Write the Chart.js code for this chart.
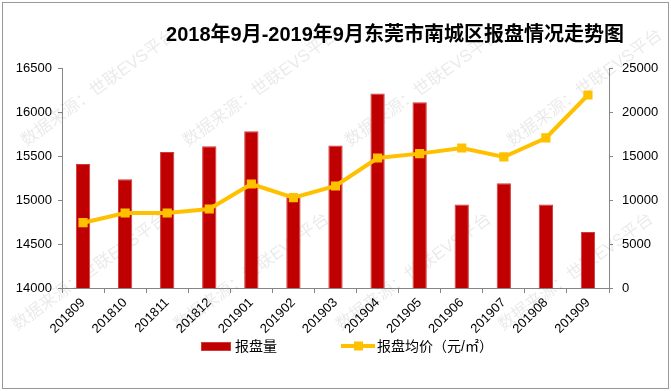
<!DOCTYPE html>
<html>
<head>
<meta charset="utf-8">
<script src="https://cdn.jsdelivr.net/npm/chart.js@4.4.0/dist/chart.umd.min.js"></script>
<style>
  html, body { margin: 0; padding: 0; background: #fff; }
</style>
</head>
<body>
<canvas id="chart" width="671" height="391"></canvas>
<script>
// data
const months = ['201809', '201810', '201811', '201812', '201901', '201902', '201903',
                '201904', '201905', '201906', '201907', '201908', '201909'];
const listingCount = [15410, 15235, 15545, 15610, 15780, 15035, 15620,
                      16210, 16110, 14950, 15190, 14950, 14635];
const avgPrice = [7420, 8520, 8520, 8980, 11820, 10270, 11590,
                  14770, 15270, 15910, 14890, 17050, 21930];
const leftRange = [14000, 16500, 500];
const rightRange = [0, 25000, 5000];

const titleText = '2018年9月-2019年9月东莞市南城区报盘情况走势图';
const countLabel = '报盘量';
const priceLabel = '报盘均价（元/㎡）';
const watermark = '数据来源：世联EVS平台';

const axisColor = '#868686';
const tickFont = { family: '"Liberation Sans", Arial, sans-serif', size: 13 };
const cjkFont = '"Liberation Sans", "Noto Sans CJK SC", sans-serif';

// frame, watermark, title and legend
const decor = {
    id: 'decor',
    beforeDatasetsDraw(chart) {
        const ctx = chart.ctx;
        ctx.save();
        ctx.font = '17px ' + cjkFont;
        ctx.fillStyle = 'rgba(0,0,0,0.085)';
        const rows = [147, 331];
        rows.forEach((y, r) => {
            for (let i = 0; i < 4; i++) {
                ctx.save();
                ctx.translate(26 - r * 9 + i * 162, y);
                ctx.rotate(-36 * Math.PI / 180);
                ctx.fillText(watermark, 0, 0);
                ctx.restore();
            }
        });
        ctx.restore();
    },
    afterDraw(chart) {
        const ctx = chart.ctx;
        ctx.save();
        // outer frame
        ctx.strokeStyle = '#999';
        ctx.lineWidth = 1;
        ctx.strokeRect(2.5, 2.5, 666, 386);

        // title
        ctx.fillStyle = '#000';
        ctx.font = 'bold 20px ' + cjkFont;
        ctx.textAlign = 'center';
        ctx.textBaseline = 'middle';
        ctx.fillText(titleText, 395, 35);

        // legend
        const ly = 346;
        ctx.font = '14px ' + cjkFont;
        ctx.textAlign = 'left';
        const ds0 = chart.data.datasets[0];
        const ds1 = chart.data.datasets[1];
        ctx.fillStyle = ds0.backgroundColor;
        ctx.strokeStyle = ds0.borderColor;
        ctx.fillRect(201, ly - 4, 30, 9);
        ctx.strokeRect(201.5, ly - 3.5, 29, 8);
        ctx.fillStyle = '#000';
        ctx.fillText(countLabel, 235, ly + 1);

        ctx.strokeStyle = ds1.borderColor;
        ctx.lineWidth = 4;
        ctx.beginPath();
        ctx.moveTo(341, ly);
        ctx.lineTo(375, ly);
        ctx.stroke();
        ctx.fillStyle = ds1.pointBackgroundColor;
        ctx.fillRect(354, ly - 4.5, 9, 9);
        ctx.fillStyle = '#000';
        ctx.fillText(priceLabel, 377, ly + 1);
        ctx.restore();
    }
};

const plain = v => String(v);

const ctx = document.getElementById('chart').getContext('2d');
const chart = new Chart(ctx, {
    type: 'bar',
    data: {
        labels: months,
        datasets: [{
            type: 'bar',
            label: countLabel,
            data: listingCount,
            yAxisID: 'y',
            backgroundColor: '#C00000',
            borderColor: '#D33A3A',
            borderWidth: 1,
            categoryPercentage: 1,
            barPercentage: 0.34,
            order: 2
        }, {
            type: 'line',
            label: priceLabel,
            data: avgPrice,
            yAxisID: 'y1',
            borderColor: '#FFC000',
            borderWidth: 4,
            pointStyle: 'rect',
            pointRadius: 6.5,
            pointBackgroundColor: '#FFC000',
            pointBorderColor: '#FFC000',
            pointBorderWidth: 0,
            tension: 0,
            order: 1
        }]
    },
    options: {
        responsive: false,
        animation: false,
        devicePixelRatio: 1,
        layout: { padding: { top: 68, bottom: 50, left: 0, right: 0 } },
        plugins: {
            legend: { display: false },
            title: { display: false },
            tooltip: { enabled: false }
        },
        scales: {
            x: {
                offset: true,
                grid: {
                    offset: true,
                    drawOnChartArea: false,
                    tickLength: 5,
                    color: axisColor
                },
                border: { color: axisColor },
                ticks: {
                    autoSkip: false,
                    maxRotation: 45,
                    minRotation: 45,
                    padding: 2,
                    color: '#000',
                    font: tickFont
                },
                afterFit(scale) { scale.height = 53; }
            },
            y: {
                position: 'left',
                min: leftRange[0],
                max: leftRange[1],
                grid: { drawOnChartArea: false, tickLength: 4, color: axisColor },
                border: { color: axisColor },
                ticks: {
                    stepSize: leftRange[2],
                    padding: 6,
                    color: '#000',
                    font: tickFont,
                    callback: plain
                },
                afterFit(scale) { scale.width = 62; }
            },
            y1: {
                position: 'right',
                min: rightRange[0],
                max: rightRange[1],
                grid: { drawOnChartArea: false, tickLength: 4, color: axisColor },
                border: { color: axisColor },
                ticks: {
                    stepSize: rightRange[2],
                    padding: 9,
                    color: '#000',
                    font: tickFont,
                    callback: plain
                },
                afterFit(scale) { scale.width = 62; }
            }
        }
    },
    plugins: [decor]
});
</script>
</body>
</html>
